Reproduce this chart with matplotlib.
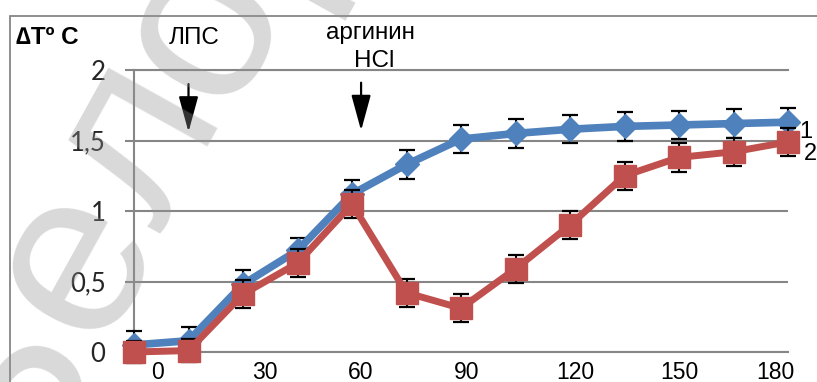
import matplotlib
matplotlib.use('Agg')
import matplotlib.pyplot as plt
from matplotlib.patches import Rectangle

# time, min
minutes = [0, 15, 30, 45, 60, 75, 90, 105, 120, 135, 150, 165, 180]
# series 1 (blue) and 2 (red), delta T, deg C
series1 = [0.05, 0.08, 0.48, 0.72, 1.12, 1.33, 1.51, 1.55, 1.58, 1.60, 1.61, 1.62, 1.63]
err1 = [0.10, 0.10, 0.10, 0.09, 0.10, 0.10, 0.10, 0.10, 0.10, 0.10, 0.10, 0.10, 0.10]
series2 = [0.00, 0.01, 0.41, 0.63, 1.05, 0.42, 0.31, 0.59, 0.90, 1.25, 1.38, 1.42, 1.49]
err2 = [0.08, 0.08, 0.10, 0.10, 0.10, 0.10, 0.10, 0.10, 0.10, 0.10, 0.10, 0.10, 0.10]

xtick_pos = [6.5, 36, 62.5, 91.5, 121.5, 150, 176.5]
xtick_labels = ['0', '30', '60', '90', '120', '150', '180']
ytick_vals = [0, 0.5, 1, 1.5, 2]
ytick_labels = ['0', '0,5', '1', '1,5', '2']

# watermark letters and where their centres fall (pixels)
wm_letters = ['Б', 'е', 'л', 'о', 'р']
wm_centres = [(6, 386), (75, 260), (139, 143), (203, 26), (266, -90)]

W, H = 817, 382
GRAY = '#868686'
BLUE = '#4F81BD'
RED = '#C0504D'


def fx(px):
    return px / W


def fy(py):
    return 1 - py / H


fig = plt.figure(figsize=(W / 100, H / 100), dpi=100)
ax = fig.add_axes([fx(134), fy(352), fx(788) - fx(134), fy(70) - fy(352)])
ax.set_facecolor('none')

ax.errorbar(minutes, series1, yerr=err1, fmt='none', ecolor='black',
            elinewidth=1.5, capsize=5.5, capthick=1.6, zorder=3, clip_on=False)
ax.plot(minutes, series1, color=BLUE, lw=5.5, marker='D', ms=12.5,
        mfc=BLUE, mec=BLUE, zorder=4, clip_on=False)
ax.errorbar(minutes, series2, yerr=err2, fmt='none', ecolor='black',
            elinewidth=1.5, capsize=5.5, capthick=1.6, zorder=5, clip_on=False)
ax.plot(minutes, series2, color=RED, lw=5, marker='s', ms=16.5,
        mfc=RED, mec=RED, zorder=6, clip_on=False)

ax.set_xlim(0, 180)
ax.set_ylim(0, 2)
ax.set_yticks(ytick_vals)
ax.set_yticklabels(ytick_labels, fontfamily='Lato', fontsize=18.5, color='#262626')
ax.set_xticks(xtick_pos)
ax.set_xticklabels(xtick_labels, fontfamily='Liberation Sans', fontsize=16.5)
ax.tick_params(axis='x', length=0, pad=6.5)
ax.tick_params(axis='y', length=6.5, width=1.5, color=GRAY, pad=14)
ax.yaxis.grid(True, color=GRAY, lw=1.5)
ax.set_axisbelow(True)
ax.spines['right'].set_visible(False)
for side in ['left', 'top', 'bottom']:
    ax.spines[side].set_color(GRAY)
    ax.spines[side].set_linewidth(1.5)

# arrows for LPS and arginine
arrow_kw = dict(arrowstyle='-|>,head_length=2.2,head_width=0.6', color='black',
                lw=1.6, mutation_scale=10, shrinkA=0, shrinkB=0)
ax.annotate('', xy=(15, 1.56), xytext=(15, 1.90), arrowprops=arrow_kw,
            annotation_clip=False)
ax.annotate('', xy=(62.5, 1.57), xytext=(62.5, 1.91), arrowprops=arrow_kw,
            annotation_clip=False)

fig.text(fx(16), fy(37), '∆Tº C', fontsize=17.5, fontweight='bold',
         family='Liberation Sans', ha='left', va='center')
fig.text(fx(194), fy(38), 'ЛПС', fontsize=17.5, family='Liberation Sans',
         ha='center', va='center')
fig.text(fx(370), fy(33), 'аргинин', fontsize=17.5, family='Liberation Sans',
         ha='center', va='center')
fig.text(fx(374), fy(61), 'HCl', fontsize=17.5, family='Liberation Sans',
         ha='center', va='center')
fig.text(fx(806), fy(132), '1', fontsize=17, family='Liberation Sans',
         ha='center', va='center')
fig.text(fx(810), fy(154), '2', fontsize=17, family='Liberation Sans',
         ha='center', va='center')

# chart area border (cropped on right and bottom)
fig.patches.append(Rectangle((fx(10), -0.2), 1.2, fy(16) + 0.2,
                             transform=fig.transFigure, fill=False,
                             ec=GRAY, lw=1.3))

# faint watermark over the picture
for ch, (cx, cy) in zip(wm_letters, wm_centres):
    fig.text(fx(cx), fy(cy), ch, rotation=61, rotation_mode='anchor',
             ha='center', va='center', fontsize=170, family='Liberation Sans',
             color='#929292', alpha=0.35, zorder=20)

fig.savefig('out.png', dpi=100)
